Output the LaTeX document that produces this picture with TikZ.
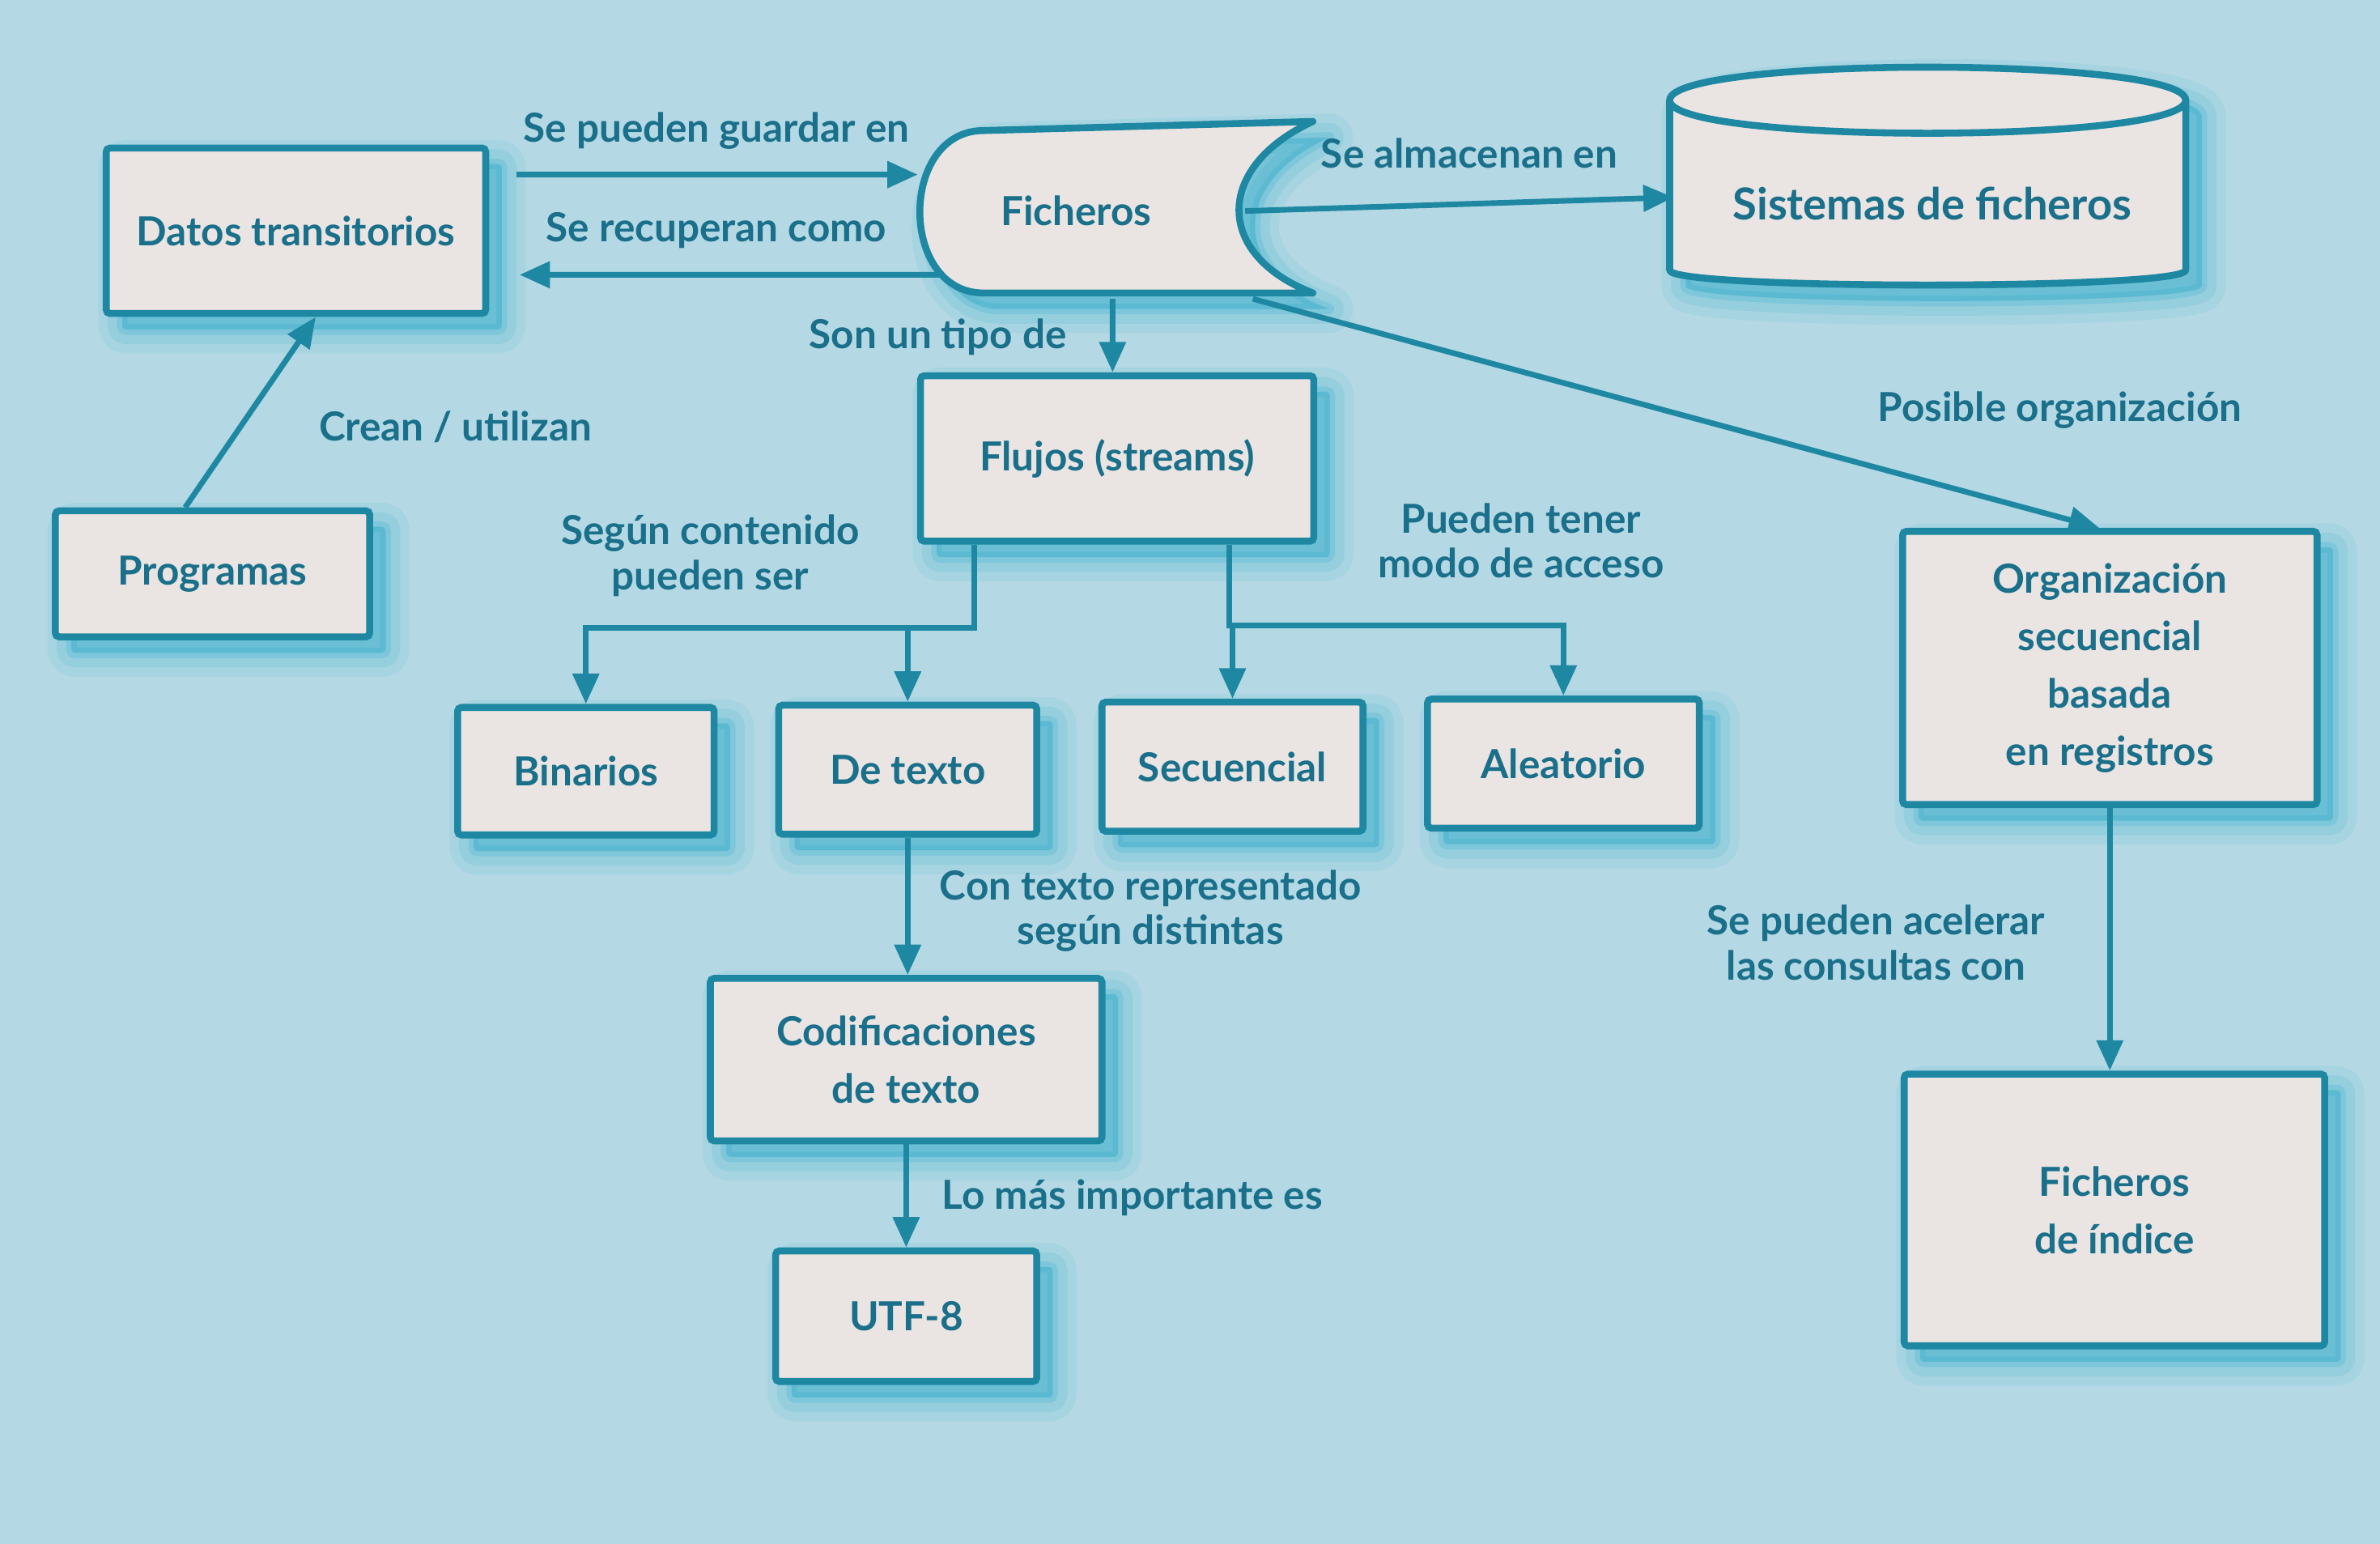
\documentclass[tikz,border=0pt]{standalone}
\usepackage{fontspec}
\setmainfont{Lato}
\usetikzlibrary{arrows.meta}
\definecolor{bgblue}{RGB}{180,216,228}
\definecolor{boxfill}{RGB}{234,228,226}
\definecolor{stroketeal}{RGB}{30,136,163}
\definecolor{textteal}{RGB}{26,112,138}
\definecolor{shadowteal}{RGB}{25,165,200}
\begin{document}
\begin{tikzpicture}
[x=0.2mm,y=-0.2mm,
  shadowdecorate/.style={%
    preaction={draw=shadowteal,fill=shadowteal,line width=18pt,line join=round,opacity=0.08,
      transform canvas={xshift=6pt,yshift=-6pt}},
    preaction={draw=shadowteal,fill=shadowteal,line width=11pt,line join=round,opacity=0.12,
      transform canvas={xshift=6pt,yshift=-6pt}},
    preaction={draw=shadowteal,fill=shadowteal,line width=4pt,line join=round,opacity=0.18,
      transform canvas={xshift=6pt,yshift=-6pt}}},%
  nodedecorate/.style={shape=rectangle,draw=stroketeal,line width=2.6pt,fill=boxfill,
    rounded corners=1.4pt,text=textteal,align=center,inner sep=2pt,
    font=\bfseries\fontsize{15}{21.5}\selectfont,shadowdecorate},%
  shapedecorate/.style={draw=stroketeal,line width=2.6pt,fill=boxfill,line join=round,shadowdecorate},%
  textdecorate/.style={text=textteal,align=center,inner sep=1pt,
    font=\bfseries\fontsize{15}{16.8}\selectfont},%
  linedecorate/.style={-{Triangle[length=4mm,width=3.4mm]},draw=stroketeal,line width=2.1pt}]
\useasboundingbox (0,0) rectangle (1568,1017);
\fill[bgblue] (0,0) rectangle (1568,1017);
%% ficheros and sistemas de ficheros
\draw[shapedecorate] (648,86) -- (865,80) .. controls (800,110) and (800,168) .. (865,193)
  -- (648,193) .. controls (592,193) and (592,86) .. (648,86) -- cycle;
\draw[shapedecorate] (1100,66) -- (1100,178) .. controls (1100,191) and (1440,191) .. (1440,178)
  -- (1440,66) .. controls (1440,37) and (1100,37) .. (1100,66) -- cycle;
\draw[draw=stroketeal,line width=2.6pt] (1100,66) .. controls (1100,95) and (1440,95) .. (1440,66);
\node (fich) at (709,139) [textdecorate,minimum width=41.6mm,minimum height=23mm] {Ficheros};
\node (sist) at (1273,134) [textdecorate,minimum width=68mm,minimum height=22.4mm,
  font=\bfseries\fontsize{16.5}{18}\selectfont] {Sistemas de ficheros};
%% nodes or boxes
\foreach \nodename/\x/\y/\w/\h/\nodetext in {
  datos/195/152/250/109/{Datos transitorios}, prog/140/378/207/83/{Programas},
  flujos/736/302/259/109/{Flujos (streams)}, bin/386/508/169/84/{Binarios},
  texto/598/507/170/85/{De texto}, secu/812/505/172/85/{Secuencial},
  alea/1030/503/179/85/{Aleatorio},
  orgseq/1390/440/273/180/{Organización\\secuencial\\basada\\en registros},
  codif/597/698/258/107/{Codificaciones\\de texto}, utf/597/867/172/86/{UTF-8},
  indice/1393/797/277/179/{Ficheros\\de índice}}
{
  \node (\nodename) at (\x,\y) [nodedecorate,minimum width=\w*0.2mm,minimum height=\h*0.2mm] {\nodetext};
}
%% labels
\foreach \labelname/\x/\y/\labeltext in {
  guardar/472/86/{Se pueden guardar en}, recuperan/472/152/{Se recuperan como},
  crean/300/281/{Crean / utilizan}, almacenan/968/101/{Se almacenan en},
  tipo/618/222/{Son un tipo de}, posible/1357/270/{Posible organización},
  contenido/468/366/{Según contenido\\pueden ser}, acceso/1002/356/{Pueden tener\\modo de acceso},
  representado/758/600/{Con texto representado\\según distintas},
  importante/746/789/{Lo más importante es},
  acelerar/1236/621/{Se pueden acelerar\\las consultas con}}
{
  \node (\labelname) at (\x,\y) [textdecorate] {\labeltext};
}
%% edges or lines
\draw[linedecorate] ([xshift=3.6mm,yshift=7.4mm]datos.east) -- ([yshift=4.8mm]fich.west);
\draw[linedecorate] ([xshift=3mm,yshift=-8.4mm]fich.west) -- ([xshift=4mm,yshift=-5.8mm]datos.east);
\draw[linedecorate] ([xshift=-3.6mm]prog.north) -- ([xshift=2.6mm]datos.south);
\draw[linedecorate] ([xshift=1.4mm]fich.east) -- ([yshift=0.8mm]sist.west);
\draw[linedecorate] ([xshift=4.8mm]fich.south) -- ([xshift=-0.6mm]flujos.north);
\draw[linedecorate] ([xshift=2.4mm]fich.south east) -- ([xshift=-1.4mm]orgseq.north);
\foreach \endnode in {bin, texto}
  \draw[linedecorate] ([xshift=-18.8mm]flujos.south) -- ++(0,55) -| (\endnode.north);
\foreach \endnode in {secu, alea}
  \draw[linedecorate] ([xshift=14.8mm]flujos.south) -- ++(0,53) -| (\endnode.north);
\path
\foreach \startnode/\endnode in {texto/codif, codif/utf, orgseq/indice} {
  (\startnode.south) edge[linedecorate] (\startnode.south |- \endnode.north)
};
\end{tikzpicture}
\end{document}
